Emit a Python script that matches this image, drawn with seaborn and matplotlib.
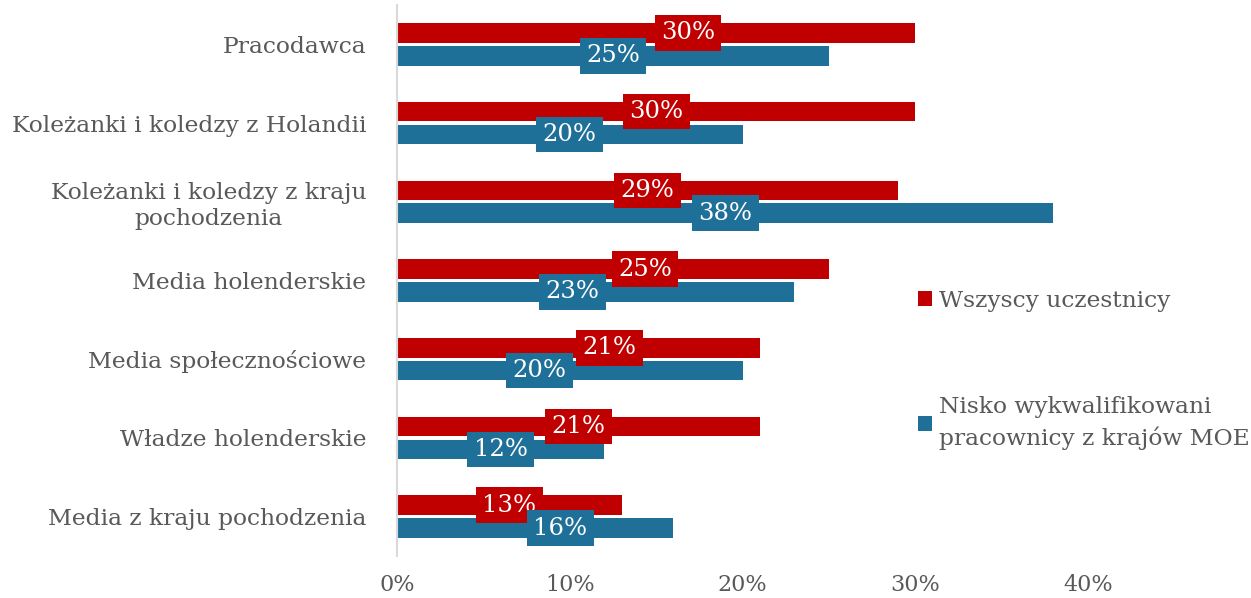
import pandas as pd
import matplotlib
matplotlib.use('Agg')
import matplotlib.pyplot as plt
import seaborn as sns
from matplotlib.ticker import PercentFormatter

# data
categories = ['Pracodawca',
              'Koleżanki i koledzy z Holandii',
              'Koleżanki i koledzy z kraju\npochodzenia',
              'Media holenderskie',
              'Media społecznościowe',
              'Władze holenderskie',
              'Media z kraju pochodzenia']
series_names = ['Wszyscy uczestnicy',
                'Nisko wykwalifikowani\npracownicy z krajów MOE']
wszyscy = [30, 30, 29, 25, 21, 21, 13]
nisko = [25, 20, 38, 23, 20, 12, 16]

# label nudges (percentage points), as in the original layout
shift_wszyscy = [1.85, 0, 0, 1.85, 1.8, 0, 0]
shift_nisko = [0, 0, 0, -1.35, -1.75, 0, 1.45]

colors = ['#C00000', '#1F7098']
grey = '#595959'

df = pd.DataFrame({
    'kategoria': categories * 2,
    'grupa': [series_names[0]] * len(categories) + [series_names[1]] * len(categories),
    'wartosc': wszyscy + nisko,
})

sns.set_style('white')
plt.rcParams['font.family'] = ['DejaVu Serif']

fig = plt.figure(figsize=(12.51, 5.98), dpi=100)
ax = fig.add_axes([397 / 1251, 1 - 556 / 598, (1088 - 397) / 1251, 551 / 598])

sns.barplot(data=df, y='kategoria', x='wartosc', hue='grupa',
            palette=colors, orient='h', width=0.58, gap=0.14,
            saturation=1, errorbar=None, linewidth=0, ax=ax)

ax.set_xlim(0, 40)
ax.set_xticks([0, 10, 20, 30, 40])
ax.xaxis.set_major_formatter(PercentFormatter(xmax=100, decimals=0))
ax.set_xlabel('')
ax.set_ylabel('')
ax.tick_params(axis='x', length=0, pad=13, labelsize=16, labelcolor=grey)
ax.tick_params(axis='y', length=0, pad=22, labelsize=16.8, labelcolor=grey)
for lbl in ax.get_yticklabels():
    lbl.set_multialignment('center')

for s in ['top', 'right', 'bottom']:
    ax.spines[s].set_visible(False)
ax.spines['left'].set_color('#D9D9D9')
ax.spines['left'].set_linewidth(1.5)

# value labels in coloured boxes
for cont, vals, shifts, col in zip(ax.containers, [wszyscy, nisko],
                                   [shift_wszyscy, shift_nisko], colors):
    for bar, v, sh in zip(cont, vals, shifts):
        yc = bar.get_y() + bar.get_height() / 2
        ax.text(v / 2 + sh, yc, f'{v}%', ha='center', va='center',
                color='white', fontsize=17.5,
                bbox=dict(boxstyle='square,pad=0.26', fc=col, ec='none'))

leg = ax.legend(loc='upper left', bbox_to_anchor=(918 / 1251, 1 - 290 / 598),
                bbox_transform=fig.transFigure, frameon=False,
                borderpad=0, borderaxespad=0,
                fontsize=16.8, labelcolor=grey, labelspacing=3.6,
                handlelength=0.6, handleheight=0.6, handletextpad=0.3)
for t in leg.get_texts():
    t.set_linespacing(1.45)

fig.savefig('out.png', dpi=100)
